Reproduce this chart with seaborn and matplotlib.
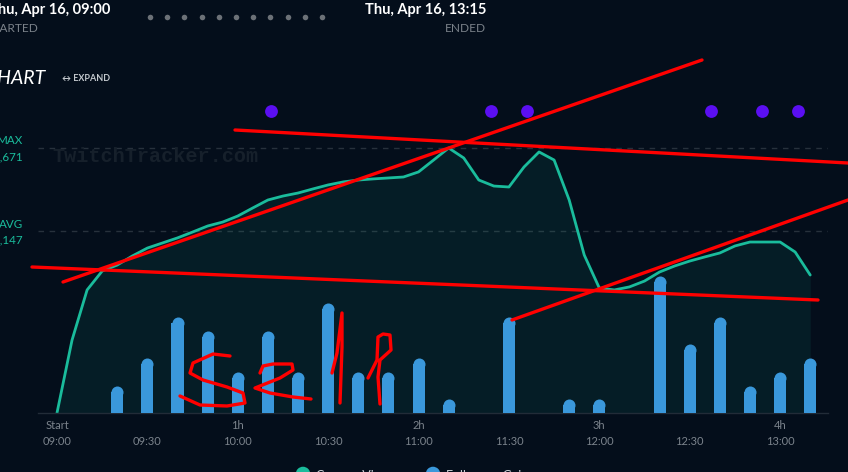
import matplotlib
matplotlib.use("Agg")
import matplotlib.pyplot as plt
import pandas as pd
import seaborn as sns

# Concurrent viewers, one reading every 5 minutes from 09:00
viewers = [0, 460, 776, 895, 933, 990, 1040, 1072, 1104, 1141,
           1179, 1204, 1242, 1293, 1343, 1368, 1387, 1413, 1438, 1457,
           1469, 1476, 1482, 1488, 1520, 1595, 1671, 1608, 1469, 1431,
           1425, 1551, 1646, 1595, 1343, 996, 788, 776, 795, 832,
           889, 927, 958, 984, 1009, 1053, 1078, 1078, 1078, 1015, 870]
viewer_minutes = [5 * i for i in range(len(viewers))]

# Followers gained, one bar every 10 minutes from 09:00
followers = [0, 0, 2, 4, 7, 6, 3, 6, 3, 8, 3, 3, 4, 1, 0, 7, 0, 1, 1, 0, 10, 5, 7, 2, 3, 4]
follower_minutes = [10 * i for i in range(len(followers))]

# stream events (purple dots), minutes after start
event_minutes = [71, 144, 156, 217, 234, 246]

tick_minutes = [0, 30, 60, 90, 120, 150, 180, 210, 240]
tick_times = ["09:00", "09:30", "10:00", "10:30", "11:00", "11:30", "12:00", "12:30", "13:00"]
tick_hours = ["Start", "", "1h", "", "2h", "", "3h", "", "4h"]

max_viewers = 1671
avg_viewers = 1147

# red hand drawn marks on the screenshot (image pixel coords)
red_lines = [
    [(235, 130), (848, 163)],
    [(63, 282), (702, 60)],
    [(32, 267), (818, 300)],
    [(512, 320), (848, 200)],
]
red_scribbles = [
    [(230, 356), (213, 354), (193, 363), (190, 373), (203, 380), (227, 387),
     (243, 393), (245, 403), (227, 406), (200, 405), (180, 396)],
    [(260, 373), (263, 366), (273, 364), (292, 364), (293, 370), (280, 378),
     (255, 388), (270, 393), (293, 397), (311, 399)],
    [(332, 373), (337, 353), (342, 313), (342, 347), (340, 403)],
    [(368, 378), (377, 360), (378, 337), (383, 334), (390, 335), (391, 350),
     (380, 360), (378, 377), (380, 404)],
]

BG = "#040e1b"
TEAL = "#1abc9c"
BLUE = "#3a98db"

sns.set_style("dark", rc={"axes.facecolor": BG, "figure.facecolor": BG})
plt.rcParams["font.family"] = ["Lato", "DejaVu Sans"]

W, H = 848, 472


def fx(x):
    return x / W


def fy(y):
    return 1 - y / H


fig = plt.figure(figsize=(8.48, 4.72), dpi=100)
ax = fig.add_axes([fx(38), fy(413), 790 / W, 318 / H])
ax2 = ax.twinx()

df_v = pd.DataFrame({"minute": viewer_minutes, "viewers": viewers})
df_f = pd.DataFrame({"minute": follower_minutes, "followers": followers})

# viewers line + area
ax.fill_between(df_v["minute"], df_v["viewers"], color=TEAL, alpha=0.09, lw=0)
sns.lineplot(data=df_v, x="minute", y="viewers", ax=ax, color=TEAL, lw=2.0)
ax.axhline(max_viewers, color="#27313c", lw=1, ls=(0, (4, 4)), zorder=0)
ax.axhline(avg_viewers, color="#27313c", lw=1, ls=(0, (4, 4)), zorder=0)

# followers bars
sns.barplot(data=df_f, x="minute", y="followers", ax=ax2, native_scale=True,
            width=0.4, color=BLUE, saturation=1, edgecolor="none", linewidth=0)

x0, x1 = -6.3, 255.9
f_top = 23.13
ax.set_xlim(x0, x1)
ax2.set_xlim(x0, x1)
ax.set_ylim(0, 2005)
ax2.set_ylim(0, f_top)

# rounded tops: shorten each bar by half its width and cap it with a circle
px_x = 790 / (x1 - x0)
px_y = 318 / f_top
caps_x, caps_y = [], []
for p in ax2.patches:
    bh = p.get_height()
    if bh <= 0:
        p.set_visible(False)
        continue
    r = p.get_width() * px_x / 2 / px_y
    p.set_height(bh - r)
    caps_x.append(p.get_x() + p.get_width() / 2)
    caps_y.append(bh - r)
cap_d = 12 * 72 / 100
ax2.scatter(caps_x, caps_y, s=cap_d ** 2, color=BLUE, lw=0, marker="o")

# event dots
ax.scatter(event_minutes, [0.95] * len(event_minutes), transform=ax.get_xaxis_transform(),
           s=85, color="#5b0ff2", lw=0, clip_on=False, zorder=5)

ax.set_xticks(tick_minutes)
ax.set_xticklabels([f"{h}\n{t}" for h, t in zip(tick_hours, tick_times)])
ax.tick_params(axis="x", length=0, pad=5, labelcolor="#7b838c", labelsize=8)
for lbl in ax.get_xticklabels():
    lbl.set_linespacing(1.55)
ax.set_yticks([])
ax2.set_yticks([])
for a in (ax, ax2):
    a.set_xlabel("")
    a.set_ylabel("")
    a.grid(False)
    for s in a.spines.values():
        s.set_visible(False)
ax.spines["bottom"].set_visible(True)
ax.spines["bottom"].set_color("#222c38")
ax.spines["bottom"].set_linewidth(1)

# labels on the left
fig.text(fx(23), fy(141), "MAX", ha="right", va="center", color=TEAL, size=8.4)
fig.text(fx(23), fy(157), f"{max_viewers:,}", ha="right", va="center", color=TEAL, size=8.4)
fig.text(fx(23), fy(224), "AVG", ha="right", va="center", color=TEAL, size=8.4)
fig.text(fx(23), fy(240), f"{avg_viewers:,}", ha="right", va="center", color=TEAL, size=8.4)

fig.text(fx(52), fy(157), "TwitchTracker.com", family="Liberation Mono", weight="bold",
         size=14.5, color="#16202b", ha="left", va="center")

# header
fig.text(fx(110), fy(10), "Thu, Apr 16, 09:00", ha="right", va="center", color="white",
         size=10.5, weight="bold")
fig.text(fx(38), fy(29), "STARTED", ha="right", va="center", color="#7b828a", size=8.6)
fig.text(fx(486), fy(10), "Thu, Apr 16, 13:15", ha="right", va="center", color="white",
         size=10.5, weight="bold")
fig.text(fx(486), fy(29), "ENDED", ha="right", va="center", color="#7b828a", size=8.6)
fig.text(fx(45), fy(78), "CHART", ha="right", va="center", color="white", size=14,
         style="italic")
fig.text(fx(62), fy(78), "↔ EXPAND", ha="left", va="center", color="#c3c8cd", size=6.5,
         weight="bold")

# overlay in screenshot pixels
ann = fig.add_axes([0, 0, 1, 1], zorder=10)
ann.set_xlim(0, W)
ann.set_ylim(H, 0)
ann.axis("off")
ann.patch.set_alpha(0)

ann.scatter([150 + 17.2 * i for i in range(11)], [17] * 11, s=16, color="#6c7177", lw=0)

ann.scatter([303, 433], [474, 474], s=110, color=[TEAL, BLUE], lw=0, clip_on=False)
fig.text(fx(316), fy(476), "Concur. Viewers", ha="left", va="center", color="#c8cdd2", size=9)
fig.text(fx(446), fy(476), "Followers Gain", ha="left", va="center", color="#c8cdd2", size=9)

for stroke in red_lines + red_scribbles:
    ann.plot([p[0] for p in stroke], [p[1] for p in stroke], color="#ff0000", lw=2.4,
             solid_capstyle="round", solid_joinstyle="round")

fig.savefig("out.png", dpi=100, facecolor=BG)
